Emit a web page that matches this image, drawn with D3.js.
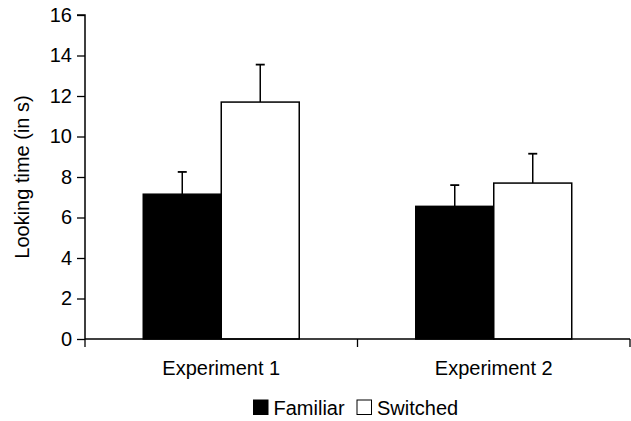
<!DOCTYPE html>
<html>
<head>
<meta charset="utf-8">
<script src="https://cdn.jsdelivr.net/npm/d3@7"></script>
<style>
body{margin:0;background:#fff;}
text{font-family:"Liberation Sans",Arial,sans-serif;}
</style>
</head>
<body>
<svg id="chart" width="631" height="421"></svg>
<script>
const categories = ["Experiment 1", "Experiment 2"];
const series = ["Familiar", "Switched"];
const familiar = [7.15, 6.55];
const switched = [11.7, 7.7];
const familiarErr = [1.1, 1.05];
const switchedErr = [1.85, 1.45];
const yTicks = [0, 2, 4, 6, 8, 10, 12, 14, 16];

const values = [familiar, switched];
const errs = [familiarErr, switchedErr];
const fills = ["#000", "#fff"];
const FS = 20;

const svg = d3.select("#chart");
const pLeft = 85, pRight = 630, pTop = 15, pBottom = 339;

const y = d3.scaleLinear().domain([0, 16]).range([pBottom, pTop]);
const x0 = d3.scaleBand().domain(categories).range([pLeft, pRight]);
const x1 = d3.scaleBand().domain(series).range([0, x0.bandwidth()]).paddingInner(0).paddingOuter(0.747);

// bars
series.forEach((s, si) => {
  categories.forEach((c, ci) => {
    const v = values[si][ci];
    const bx = x0(c) + x1(s);
    svg.append("rect")
      .attr("x", bx).attr("y", y(v))
      .attr("width", x1.bandwidth()).attr("height", y(0) - y(v))
      .attr("fill", fills[si]).attr("stroke", "#000").attr("stroke-width", 1.5);
    const cx = bx + x1.bandwidth() / 2;
    const e = v + errs[si][ci];
    svg.append("line").attr("x1", cx).attr("x2", cx).attr("y1", y(v)).attr("y2", y(e))
      .attr("stroke", "#000").attr("stroke-width", 1.5);
    svg.append("line").attr("x1", cx - 4.5).attr("x2", cx + 4.5).attr("y1", y(e)).attr("y2", y(e))
      .attr("stroke", "#000").attr("stroke-width", 1.8);
  });
});

// y axis
const yAxis = svg.append("g").attr("transform", `translate(${pLeft},0)`)
  .call(d3.axisLeft(y).tickValues(yTicks).tickSize(8).tickPadding(5).tickFormat(d3.format("d")));
yAxis.select(".domain").attr("stroke-width", 1.5).attr("d", `M-8,${pTop}H0V${pBottom}`);
yAxis.selectAll(".tick line").attr("stroke-width", 1.3);
yAxis.selectAll("text").attr("font-size", FS).attr("fill", "#000").attr("font-family", "Liberation Sans, Arial, sans-serif");

// x axis
const xAxis = svg.append("g").attr("transform", `translate(0,${pBottom})`);
xAxis.append("line").attr("x1", pLeft).attr("x2", pRight).attr("y1", 0).attr("y2", 0)
  .attr("stroke", "#000").attr("stroke-width", 1.5);
const bounds = [pLeft].concat(categories.map(c => x0(c) + x0.bandwidth()));
xAxis.selectAll(".xt").data(bounds).enter().append("line")
  .attr("x1", d => d).attr("x2", d => d).attr("y1", 0).attr("y2", 8)
  .attr("stroke", "#000").attr("stroke-width", 1.3);
xAxis.selectAll(".xl").data(categories).enter().append("text")
  .attr("x", d => x0(d) + x0.bandwidth() / 2).attr("y", 36)
  .attr("text-anchor", "middle").attr("font-size", FS).attr("fill", "#000").text(d => d);

// y title
svg.append("text").attr("transform", `translate(29,${(pTop + pBottom) / 2}) rotate(-90)`)
  .attr("text-anchor", "middle").attr("font-size", FS).attr("fill", "#000").text("Looking time (in s)");

// legend
const legX = [253.5, 357];
const legY = 400;
series.forEach((s, i) => {
  svg.append("rect").attr("x", legX[i]).attr("y", legY).attr("width", 14.5).attr("height", 14.5)
    .attr("fill", fills[i]).attr("stroke", "#000").attr("stroke-width", 1);
  svg.append("text").attr("x", legX[i] + 20).attr("y", legY + 14.5)
    .attr("font-size", FS).attr("fill", "#000").text(s);
});
</script>
</body>
</html>
